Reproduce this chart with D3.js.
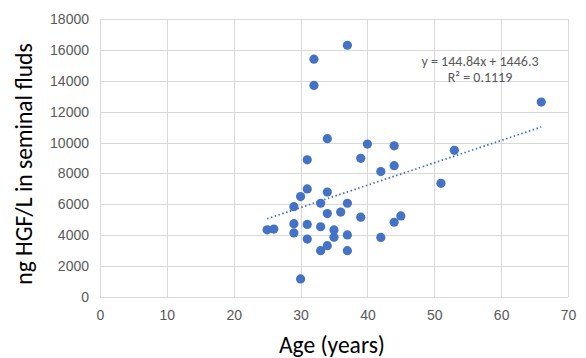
<!DOCTYPE html>
<html>
<head>
<meta charset="utf-8">
<script src="https://cdn.jsdelivr.net/npm/d3@7"></script>
<style>
  body { margin: 0; background: #fff; }
  svg { display: block; font-family: Carlito, "Open Sans", "Noto Sans", sans-serif; }
</style>
</head>
<body>
<script>
// age (years) and ng HGF/L
const ages = [25, 26, 29, 29, 29, 30, 30, 31, 31, 31, 31, 32, 32, 33, 33, 33, 34, 34, 34, 34,
  35, 35, 36, 37, 37, 37, 37, 39, 39, 40, 42, 42, 44, 44, 44, 45, 51, 53, 66];
const hgf = [4350, 4400, 5850, 4750, 4150, 6500, 1170, 7000, 8880, 4700, 3750, 15400, 13700, 6070, 4550, 3000, 6800, 5400, 3320, 10250,
  4340, 3870, 5500, 16300, 6070, 4020, 3000, 5170, 8980, 9900, 8120, 3860, 9790, 8500, 4840, 5250, 7360, 9500, 12620];
const trend = {slope: 144.84, intercept: 1446.3, from: 25, to: 66};
const eqLines = ["y = 144.84x + 1446.3", "R\u00B2 = 0.1119"];
const xTicks = d3.range(0, 71, 10);
const yTicks = d3.range(0, 18001, 2000);

const width = 586, height = 358;
const margin = {top: 19, right: 18, bottom: 61, left: 100};
const blue = "#4472C4", grid = "#d9d9d9", text = "#595959";

const svg = d3.select("body").append("svg")
    .attr("width", width)
    .attr("height", height)
    .attr("viewBox", [0, 0, width, height]);

const x = d3.scaleLinear([0, 70], [margin.left, width - margin.right]);
const y = d3.scaleLinear([0, 18000], [height - margin.bottom, margin.top]);

// gridlines
svg.append("g")
    .attr("stroke", grid)
    .attr("stroke-width", 1)
  .call(g => g.selectAll("line.v")
    .data(xTicks)
    .join("line")
      .attr("class", "v")
      .attr("x1", d => Math.round(x(d)) + 0.5)
      .attr("x2", d => Math.round(x(d)) + 0.5)
      .attr("y1", y(18000))
      .attr("y2", y(0)))
  .call(g => g.selectAll("line.h")
    .data(yTicks)
    .join("line")
      .attr("class", "h")
      .attr("x1", x(0))
      .attr("x2", x(70))
      .attr("y1", d => Math.round(y(d)) + 0.5)
      .attr("y2", d => Math.round(y(d)) + 0.5));

// tick labels
svg.append("g")
    .attr("transform", `translate(0,${y(0)})`)
    .call(d3.axisBottom(x).tickValues(xTicks).tickSize(0).tickPadding(13))
    .call(g => g.select(".domain").remove())
    .call(g => g.selectAll("text").attr("fill", text).attr("font-size", 14).attr("font-family", null));

svg.append("g")
    .attr("transform", `translate(${x(0)},0)`)
    .call(d3.axisLeft(y).tickValues(yTicks).tickFormat(d3.format("d")).tickSize(0).tickPadding(11))
    .call(g => g.select(".domain").remove())
    .call(g => g.selectAll("text").attr("fill", text).attr("font-size", 14).attr("font-family", null));

// trendline
svg.append("line")
    .attr("x1", x(trend.from))
    .attr("y1", y(trend.slope * trend.from + trend.intercept))
    .attr("x2", x(trend.to))
    .attr("y2", y(trend.slope * trend.to + trend.intercept))
    .attr("stroke", blue)
    .attr("stroke-width", 1.75)
    .attr("stroke-dasharray", "1.5 2.5");

// points
svg.append("g")
    .attr("fill", blue)
  .selectAll("circle")
  .data(ages.map((a, i) => [a, hgf[i]]))
  .join("circle")
    .attr("cx", d => x(d[0]))
    .attr("cy", d => y(d[1]))
    .attr("r", 4.6);

// equation
svg.append("g")
    .attr("fill", text)
    .attr("font-size", 14)
    .attr("text-anchor", "middle")
  .selectAll("text")
  .data(eqLines)
  .join("text")
    .attr("x", 480)
    .attr("y", (d, i) => 66 + i * 16)
    .text(d => d);

// axis titles
svg.append("text")
    .attr("x", x(34.7))
    .attr("y", 353)
    .attr("text-anchor", "middle")
    .attr("font-size", 23.5)
    .attr("fill", "#000")
    .text("Age (years)");

svg.append("text")
    .attr("transform", `translate(32,${(y(0) + y(18000)) / 2 + 6}) rotate(-90)`)
    .attr("text-anchor", "middle")
    .attr("font-size", 23.5)
    .attr("fill", "#000")
    .text("ng HGF/L in seminal fluds");
</script>
</body>
</html>
